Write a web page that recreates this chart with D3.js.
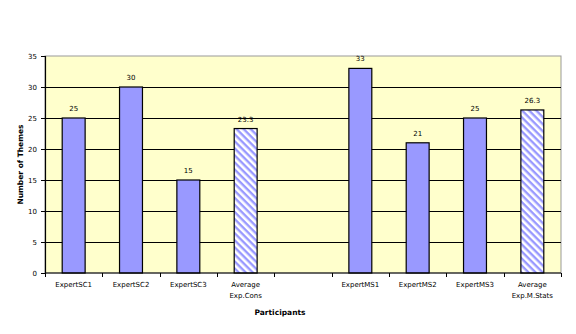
<!DOCTYPE html>
<html>
<head>
<meta charset="utf-8">
<script src="https://cdn.jsdelivr.net/npm/d3@7"></script>
<style>
  body { margin: 0; background: #fff; }
  text { font-family: "DejaVu Sans", Verdana, sans-serif; }
</style>
</head>
<body>
<div id="chart-area"></div>
<script>
// DATA
var categories = ["ExpertSC1", "ExpertSC2", "ExpertSC3", "Average\nExp.Cons", "",
                  "ExpertMS1", "ExpertMS2", "ExpertMS3", "Average\nExp.M.Stats"];
var values = [25, 30, 15, 23.3, null, 33, 21, 25, 26.3];
var isAverage = [false, false, false, true, false, false, false, false, true];
var yTicks = [0, 5, 10, 15, 20, 25, 30, 35];

var margin = { left: 45, right: 15, top: 56, bottom: 61 };
var width = 576 - margin.left - margin.right,
    height = 334 - margin.top - margin.bottom;

var svg = d3.select("#chart-area")
    .append("svg")
        .attr("width", 576)
        .attr("height", 334);

// hatch pattern for the averages
var defs = svg.append("defs");
var pat = defs.append("pattern")
    .attr("id", "hatch")
    .attr("patternUnits", "userSpaceOnUse")
    .attr("width", 5)
    .attr("height", 5)
    .attr("patternTransform", "rotate(45)");
pat.append("rect").attr("width", 5).attr("height", 5).attr("fill", "#fff");
pat.append("rect").attr("width", 5).attr("height", 2.4).attr("fill", "#9999FF");

var g = svg.append("g")
    .attr("transform", "translate(" + margin.left + "," + margin.top + ")");

// SCALES
var x = d3.scaleBand()
    .domain(d3.range(categories.length))
    .range([0, width])
    .paddingInner(0.6)
    .paddingOuter(0.3);

var y = d3.scaleLinear()
    .domain([0, 35])
    .range([height, 0]);

// background
g.append("rect")
    .attr("width", width)
    .attr("height", height)
    .attr("fill", "#FFFFCC")
    .attr("stroke", "#999")
    .attr("stroke-width", 1);

// grid lines
g.selectAll(".grid")
    .data(yTicks.filter(function(d) { return d > 0 && d < 35; }))
    .enter().append("line")
        .attr("x1", 0)
        .attr("x2", width)
        .attr("y1", function(d) { return Math.round(y(d)) + 0.5; })
        .attr("y2", function(d) { return Math.round(y(d)) + 0.5; })
        .attr("stroke", "#000")
        .attr("stroke-width", 1.2);

// BARS
var idx = d3.range(categories.length).filter(function(i) { return values[i] != null; });

g.selectAll(".bar")
    .data(idx)
    .enter().append("rect")
        .attr("x", function(i) { return x(i); })
        .attr("y", function(i) { return y(values[i]); })
        .attr("width", x.bandwidth())
        .attr("height", function(i) { return height - y(values[i]); })
        .attr("fill", function(i) { return isAverage[i] ? "url(#hatch)" : "#9999FF"; })
        .attr("stroke", "#000")
        .attr("stroke-width", 1.2);

// value labels
g.selectAll(".val")
    .data(idx)
    .enter().append("text")
        .attr("x", function(i) { return x(i) + x.bandwidth() / 2; })
        .attr("y", function(i) { return y(values[i]) - 7; })
        .attr("text-anchor", "middle")
        .attr("font-size", "7px")
        .attr("fill", "#000")
        .text(function(i) { return values[i]; });

// Y AXIS
var yAxisCall = d3.axisLeft(y)
    .tickValues(yTicks)
    .tickSize(4)
    .tickPadding(4);
var yAxis = g.append("g").call(yAxisCall);
yAxis.select(".domain").attr("stroke", "#000").attr("stroke-width", 1.2);
yAxis.selectAll("text").attr("font-size", "7px").attr("font-family", "DejaVu Sans");

// X AXIS
var step = width / categories.length;
var xAxis = g.append("g").attr("transform", "translate(0," + height + ")");
xAxis.append("line")
    .attr("x1", 0).attr("x2", width)
    .attr("stroke", "#000").attr("stroke-width", 1.2);
xAxis.selectAll(".tick")
    .data(d3.range(categories.length + 1))
    .enter().append("line")
        .attr("x1", function(i) { return Math.round(i * step) + 0.5; })
        .attr("x2", function(i) { return Math.round(i * step) + 0.5; })
        .attr("y1", 0).attr("y2", 4)
        .attr("stroke", "#000");

categories.forEach(function(c, i) {
    var lines = c.split("\n");
    lines.forEach(function(l, j) {
        xAxis.append("text")
            .attr("x", x(i) + x.bandwidth() / 2)
            .attr("y", 14 + j * 11)
            .attr("text-anchor", "middle")
            .attr("font-size", "7px")
            .text(l);
    });
});

// LABELS
g.append("text")
    .attr("x", 235)
    .attr("y", height + 42)
    .attr("text-anchor", "middle")
    .attr("font-size", "7.5px")
    .attr("font-weight", "bold")
    .text("Participants");

g.append("text")
    .attr("transform", "translate(-22," + (height / 2) + ") rotate(-90)")
    .attr("text-anchor", "middle")
    .attr("font-size", "7.5px")
    .attr("font-weight", "bold")
    .text("Number of Themes");
</script>
</body>
</html>
